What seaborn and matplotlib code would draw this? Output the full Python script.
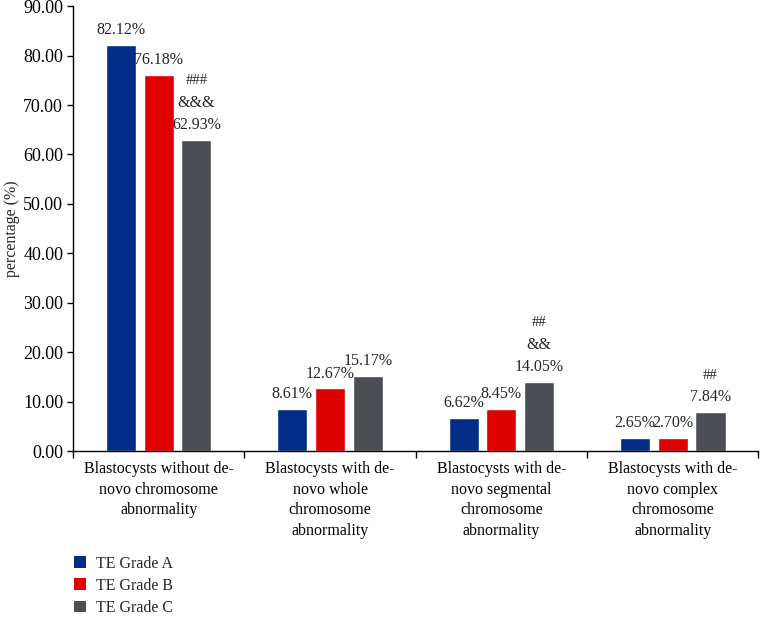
import pandas as pd
import seaborn as sns
import matplotlib.pyplot as plt
from matplotlib.patches import Patch

categories = [
    "Blastocysts without de-\nnovo chromosome\nabnormality",
    "Blastocysts with de-\nnovo whole\nchromosome\nabnormality",
    "Blastocysts with de-\nnovo segmental\nchromosome\nabnormality",
    "Blastocysts with de-\nnovo complex\nchromosome\nabnormality",
]
grades = ["TE Grade A", "TE Grade B", "TE Grade C"]
grade_a = [82.12, 8.61, 6.62, 2.65]
grade_b = [76.18, 12.67, 8.45, 2.70]
grade_c = [62.93, 15.17, 14.05, 7.84]
# significance marks over grade C bars (hash line, ampersand line)
marks_hash = ["###", "", "##", "##"]
marks_amp = ["&&&", "", "&&", ""]

colors = ["#012D86", "#DF0000", "#4B4E52"]
serif = ["Liberation Serif", "DejaVu Serif"]

sns.set_style("ticks")
plt.rcParams["font.family"] = serif

rows = []
for vals, g in zip([grade_a, grade_b, grade_c], grades):
    for c, v in zip(categories, vals):
        rows.append({"cat": c, "grade": g, "value": v})
df = pd.DataFrame(rows)

fig = plt.figure(figsize=(7.6, 6.18), dpi=100)
ax = fig.add_axes([0.096, 0.27, 0.902, 0.72])

sns.barplot(data=df, x="cat", y="value", hue="grade", palette=colors,
            width=0.66, gap=0.2, saturation=1, ax=ax, legend=False)

# value labels
for container, vals in zip(ax.containers, [grade_a, grade_b, grade_c]):
    for bar, v in zip(container, vals):
        ax.annotate(f"{v:.2f}%", (bar.get_x() + bar.get_width() / 2, bar.get_height()),
                    xytext=(0, 5), textcoords="offset points",
                    ha="center", va="bottom", fontsize=11.5)

# significance marks above grade C labels
for bar, h, a in zip(ax.containers[2], marks_hash, marks_amp):
    x = bar.get_x() + bar.get_width() / 2
    y = bar.get_height()
    off = 21
    if a:
        ax.annotate(a, (x, y), xytext=(0, off), textcoords="offset points",
                    ha="center", va="bottom", fontsize=11.5)
        off += 16
    if h:
        ax.annotate(h, (x, y), xytext=(0, off + 1), textcoords="offset points",
                    ha="center", va="bottom", fontsize=10.5)

ax.set_ylim(0, 90)
ax.set_yticks(range(0, 91, 10))
ax.set_yticklabels([f"{t:.2f}" for t in range(0, 91, 10)], fontsize=13)
ax.set_xlim(-0.5, 3.5)
ax.set_xticks(range(4))
ax.set_xticklabels(categories, fontsize=11.5, linespacing=1.4)
ax.set_xticks([-0.5, 0.5, 1.5, 2.5, 3.5], minor=True)
ax.tick_params(axis="x", which="major", length=0, pad=7)
ax.tick_params(axis="x", which="minor", length=5, width=1, direction="out")
ax.tick_params(axis="y", length=4, width=1, direction="out", pad=3)
ax.set_xlabel("")
ax.set_ylabel("percentage (%)", fontsize=11.5)
ax.yaxis.set_label_coords(-0.077, 0.5)
for s in ["top", "right"]:
    ax.spines[s].set_visible(False)
for s in ["left", "bottom"]:
    ax.spines[s].set_color("black")
    ax.spines[s].set_linewidth(1)
ax.tick_params(colors="black", which="both")

handles = [Patch(facecolor=c, edgecolor="none") for c in colors]
fig.legend(handles, grades, loc="upper left", bbox_to_anchor=(0.089, 0.111),
           frameon=False, fontsize=11.5, handlelength=0.75, handleheight=0.75,
           handletextpad=0.6, labelspacing=0.38, borderaxespad=0)

fig.savefig("out.png", dpi=100)
